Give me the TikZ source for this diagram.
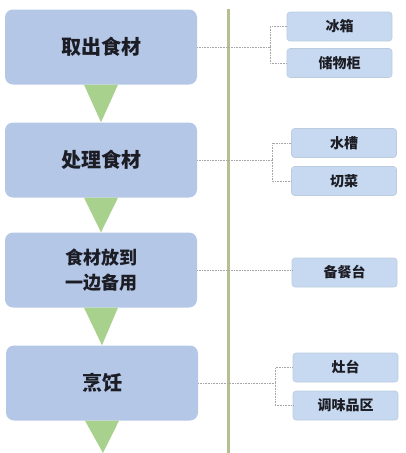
\documentclass[tikz,border=0pt]{standalone}
\usepackage{fontspec}
\newfontfamily\cjk{Noto Sans CJK SC}
\usepackage{tikz}
\usetikzlibrary{positioning}
\usepackage{xcolor}

\definecolor{mainblue}{HTML}{B4C7E7}
\definecolor{subblue}{HTML}{C6D9F0}
\definecolor{arrowgreen}{HTML}{A9D18E}
\definecolor{olive}{HTML}{B5BF94}
\definecolor{inkdark}{HTML}{1C1C24}

\begin{document}
\begin{tikzpicture}[x=1pt, y=-1pt, every node/.style={text=inkdark}]
\useasboundingbox (0,0) rectangle (405,453);

\tikzset{
  stepbox/.style={rectangle, rounded corners=8pt, fill=mainblue, minimum width=192pt, minimum height=75pt, align=center, font=\cjk\bfseries\fontsize{20}{25}\selectfont},
  placebox/.style={rectangle, rounded corners=3pt, fill=subblue, draw=subblue!85!gray, line width=0.6pt, minimum width=105pt, minimum height=29pt, font=\cjk\bfseries\fontsize{14}{16}\selectfont},
  link/.style={densely dotted, gray!70, line width=0.6pt},
}

% Divider
\coordinate (top) at (228,9);
\coordinate (bottom) at (228,453);
\draw[olive, line width=3pt] (top) -- (bottom);

% Steps
\node[stepbox] at (101,47) (s1) {取出食材};
\node[stepbox] at (101,160) (s2) {处理食材};
\node[stepbox, font=\cjk\bfseries\fontsize{18}{25}\selectfont] at (101,270) (s3) {食材放到\\一边备用};
\node[stepbox] at (102,383) (s4) {烹饪};
\coordinate (end) at (103,453);

% Arrows between steps
\foreach \a/\b in {s1/s2.north, s2/s3.north, s3/s4.north, s4/end} {
    \fill[arrowgreen] ([xshift=-17pt]\a.south) -- ([xshift=17pt]\a.south) -- (\b) -- cycle;
}

% Places
\node[placebox] at (339.5,26.5) (fridge) {冰箱};
\node[placebox] at (339.5,63) (cabinet) {储物柜};
\node[placebox] at (344,143) (sink) {水槽};
\node[placebox] at (344,181) (cut) {切菜};
\node[placebox] at (344.5,272.5) (counter) {备餐台};
\node[placebox] at (345.5,367.5) (stove) {灶台};
\node[placebox] at (345.5,405.5) (spice) {调味品区};

% Connections
\coordinate (j1) at (270,47);
\coordinate (j2) at (272,160);
\coordinate (j4) at (275,383);
\draw[link] (s1.east) -- (j1);
\draw[link] (s2.east) -- (j2);
\draw[link] (s4.east) -- (j4);
\foreach \j/\target in {j1/fridge, j1/cabinet, j2/sink, j2/cut, j4/stove, j4/spice} {
    \draw[link] (\j) |- (\target.west);
}
\draw[link] (s3.east) -- (s3.east -| counter.west);

\end{tikzpicture}
\end{document}
